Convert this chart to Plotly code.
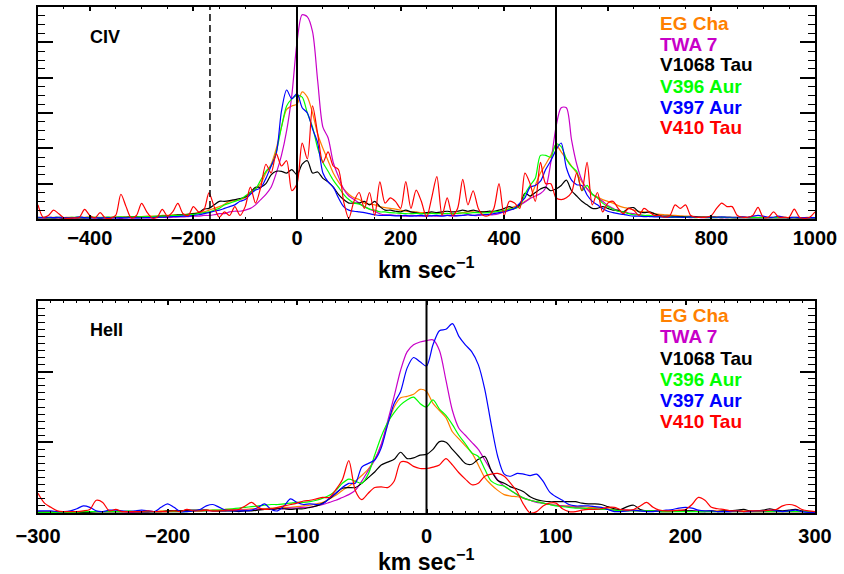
import plotly.graph_objects as go

# ---------------- data ----------------
stars = ["EG Cha", "TWA 7", "V1068 Tau", "V396 Aur", "V397 Aur", "V410 Tau"]
star_colors = ["#FF8000", "#C800C8", "#000000", "#00FF00", "#0000FF", "#FF0000"]

# C IV panel: velocity grid (km/s) -500..1000 step 10
v_civ = list(range(-500, 1001, 10))

civ_eg_cha = [
    0.05, 0.04, 0.04, 0.05, 0.04, 0.04, 0.05, 0.04, 0.04, 0.05,
    0.05, 0.05, 0.05, 0.05, 0.05, 0.05, 0.06, 0.06, 0.06, 0.07,
    0.07, 0.08, 0.08, 0.08, 0.10, 0.10, 0.12, 0.12, 0.13, 0.14,
    0.16, 0.18, 0.20, 0.25, 0.30, 0.35, 0.42, 0.50, 0.52, 0.55,
    0.60, 0.75, 0.85, 1.00, 1.30, 1.55, 2.00, 2.60, 3.10, 3.20,
    3.25, 3.60, 3.45, 3.00, 2.40, 2.00, 1.65, 1.30, 1.05, 0.85,
    0.70, 0.60, 0.55, 0.45, 0.42, 0.40, 0.35, 0.32, 0.30, 0.28,
    0.25, 0.22, 0.20, 0.20, 0.18, 0.18, 0.17, 0.16, 0.16, 0.15,
    0.15, 0.16, 0.18, 0.20, 0.20, 0.18, 0.20, 0.20, 0.20, 0.22,
    0.22, 0.30, 0.35, 0.40, 0.50, 0.60, 0.95, 1.30, 1.55, 1.80,
    2.10, 1.90, 1.70, 1.50, 1.30, 1.05, 0.85, 0.70, 0.62, 0.55,
    0.50, 0.45, 0.38, 0.33, 0.30, 0.25, 0.22, 0.20, 0.18, 0.15,
    0.13, 0.12, 0.11, 0.10, 0.09, 0.08, 0.08, 0.07, 0.07, 0.06,
    0.06, 0.06, 0.05, 0.05, 0.05, 0.05, 0.05, 0.05, 0.05, 0.05,
    0.05, 0.05, 0.05, 0.05, 0.05, 0.04, 0.05, 0.04, 0.04, 0.05,
    0.04,
]
civ_twa7 = [
    0.03, 0.03, 0.04, 0.03, 0.03, 0.02, 0.03, 0.03, 0.04, 0.03,
    0.03, 0.03, 0.02, 0.03, 0.03, 0.03, 0.02, 0.03, 0.03, 0.03,
    0.04, 0.03, 0.03, 0.04, 0.05, 0.04, 0.05, 0.06, 0.06, 0.07,
    0.08, 0.08, 0.10, 0.10, 0.12, 0.15, 0.15, 0.20, 0.22, 0.22,
    0.25, 0.30, 0.40, 0.55, 0.70, 0.90, 1.30, 1.80, 2.50, 3.50,
    5.00, 5.78, 5.72, 5.30, 3.90, 2.60, 2.30, 1.60, 1.20, 0.85,
    0.65, 0.55, 0.45, 0.35, 0.28, 0.22, 0.15, 0.12, 0.12, 0.10,
    0.10, 0.08, 0.10, 0.09, 0.08, 0.10, 0.09, 0.08, 0.10, 0.10,
    0.08, 0.10, 0.10, 0.12, 0.10, 0.10, 0.12, 0.12, 0.12, 0.15,
    0.20, 0.25, 0.30, 0.38, 0.48, 0.58, 0.65, 0.72, 0.88, 1.60,
    2.60, 3.15, 3.15, 2.24, 1.55, 1.10, 0.85, 0.70, 0.60, 0.50,
    0.38, 0.30, 0.22, 0.20, 0.17, 0.15, 0.12, 0.10, 0.08, 0.08,
    0.07, 0.06, 0.06, 0.05, 0.05, 0.05, 0.04, 0.05, 0.04, 0.04,
    0.04, 0.04, 0.04, 0.03, 0.04, 0.03, 0.03, 0.04, 0.03, 0.03,
    0.03, 0.03, 0.04, 0.03, 0.03, 0.03, 0.03, 0.03, 0.03, 0.03,
    0.03,
]
civ_v1068_tau = [
    0.03, 0.04, 0.03, 0.03, 0.04, 0.03, 0.03, 0.04, 0.03, 0.03,
    0.04, 0.04, 0.03, 0.04, 0.04, 0.05, 0.04, 0.05, 0.06, 0.06,
    0.05, 0.06, 0.07, 0.07, 0.08, 0.08, 0.10, 0.12, 0.12, 0.13,
    0.15, 0.17, 0.28, 0.30, 0.40, 0.50, 0.50, 0.52, 0.55, 0.58,
    0.62, 0.75, 0.90, 0.90, 1.00, 1.25, 1.35, 1.35, 1.30, 1.40,
    1.25, 1.55, 1.65, 1.30, 1.33, 1.15, 1.05, 0.90, 0.70, 0.55,
    0.45, 0.45, 0.45, 0.50, 0.40, 0.50, 0.35, 0.25, 0.25, 0.22,
    0.20, 0.25, 0.20, 0.18, 0.15, 0.18, 0.20, 0.18, 0.20, 0.22,
    0.20, 0.22, 0.25, 0.22, 0.25, 0.22, 0.20, 0.22, 0.22, 0.25,
    0.30, 0.35, 0.30, 0.40, 0.73, 0.65, 0.75, 0.85, 0.90, 0.80,
    0.85, 0.95, 1.10, 0.80, 0.65, 0.50, 0.40, 0.30, 0.30, 0.35,
    0.30, 0.25, 0.25, 0.20, 0.30, 0.32, 0.20, 0.18, 0.20, 0.15,
    0.10, 0.08, 0.08, 0.07, 0.07, 0.06, 0.06, 0.06, 0.05, 0.05,
    0.05, 0.05, 0.04, 0.05, 0.04, 0.04, 0.05, 0.04, 0.04, 0.04,
    0.04, 0.04, 0.04, 0.04, 0.04, 0.03, 0.04, 0.03, 0.03, 0.03,
    0.03,
]
civ_v396_aur = [
    0.04, 0.05, 0.04, 0.04, 0.05, 0.04, 0.04, 0.05, 0.05, 0.04,
    0.05, 0.05, 0.04, 0.05, 0.05, 0.05, 0.06, 0.05, 0.06, 0.06,
    0.06, 0.07, 0.07, 0.08, 0.08, 0.08, 0.10, 0.10, 0.11, 0.12,
    0.13, 0.15, 0.18, 0.20, 0.25, 0.30, 0.40, 0.45, 0.50, 0.55,
    0.65, 0.75, 0.85, 1.10, 1.35, 1.50, 1.90, 2.60, 3.20, 3.40,
    3.50, 3.45, 3.00, 2.60, 2.00, 1.60, 1.35, 1.10, 0.90, 0.70,
    0.55, 0.45, 0.42, 0.35, 0.28, 0.25, 0.20, 0.20, 0.18, 0.17,
    0.16, 0.15, 0.15, 0.16, 0.15, 0.15, 0.16, 0.15, 0.15, 0.16,
    0.15, 0.16, 0.17, 0.16, 0.18, 0.18, 0.17, 0.18, 0.20, 0.22,
    0.25, 0.28, 0.30, 0.35, 0.70, 0.95, 1.15, 1.80, 1.80, 1.75,
    2.12, 2.05, 1.70, 1.48, 1.35, 0.80, 0.95, 0.70, 0.60, 0.45,
    0.35, 0.28, 0.22, 0.20, 0.15, 0.12, 0.12, 0.10, 0.10, 0.08,
    0.07, 0.06, 0.06, 0.05, 0.05, 0.05, 0.05, 0.04, 0.05, 0.04,
    0.04, 0.04, 0.05, 0.04, 0.04, 0.04, 0.04, 0.04, 0.04, 0.04,
    0.04, 0.04, 0.04, 0.04, 0.04, 0.04, 0.04, 0.04, 0.04, 0.04,
    0.04,
]
civ_v397_aur = [
    0.05, 0.04, 0.05, 0.04, 0.05, 0.04, 0.03, 0.04, 0.06, 0.04,
    0.03, 0.04, 0.03, 0.04, 0.03, 0.03, 0.04, 0.03, 0.04, 0.03,
    0.03, 0.04, 0.04, 0.05, 0.05, 0.06, 0.07, 0.07, 0.08, 0.08,
    0.10, 0.12, 0.15, 0.18, 0.22, 0.25, 0.30, 0.35, 0.40, 0.50,
    0.55, 0.70, 0.82, 0.88, 1.15, 1.50, 1.85, 3.05, 3.65, 3.40,
    3.55, 3.15, 3.00, 2.55, 2.15, 1.30, 1.05, 0.90, 0.60, 0.35,
    0.25, 0.22, 0.20, 0.18, 0.15, 0.12, 0.10, 0.10, 0.10, 0.09,
    0.09, 0.10, 0.08, 0.09, 0.10, 0.08, 0.09, 0.10, 0.08, 0.10,
    0.10, 0.09, 0.10, 0.12, 0.10, 0.12, 0.12, 0.13, 0.15, 0.18,
    0.20, 0.25, 0.30, 0.45, 0.60, 0.90, 0.95, 1.07, 1.40, 1.65,
    1.95, 2.15, 1.45, 1.10, 0.97, 0.95, 0.68, 0.50, 0.40, 0.30,
    0.22, 0.18, 0.15, 0.13, 0.10, 0.08, 0.08, 0.07, 0.07, 0.06,
    0.06, 0.06, 0.05, 0.06, 0.05, 0.05, 0.06, 0.05, 0.05, 0.05,
    0.05, 0.05, 0.06, 0.05, 0.05, 0.05, 0.06, 0.05, 0.08, 0.10,
    0.08, 0.05, 0.05, 0.08, 0.05, 0.04, 0.05, 0.04, 0.04, 0.04,
    0.04,
]
civ_v410_tau = [
    0.40, 0.05, 0.10, 0.25, 0.15, 0.03, 0.02, 0.03, 0.05, 0.27,
    0.10, 0.03, 0.18, 0.03, 0.02, 0.10, 0.70, 0.35, 0.03, 0.10,
    0.44, 0.20, 0.03, 0.05, 0.27, 0.08, 0.20, 0.44, 0.15, 0.10,
    0.35, 0.20, 0.25, 0.74, 0.35, 0.05, 0.20, 0.10, 0.35, 0.10,
    0.35, 0.90, 0.45, 0.90, 1.55, 1.30, 1.85, 1.50, 1.65, 0.80,
    1.00, 2.15, 1.70, 3.20, 2.40, 1.60, 1.90, 1.50, 1.40, 0.50,
    0.02, 0.50, 0.75, 0.30, 0.75, 0.10, 1.05, 0.45, 0.60, 0.50,
    0.30, 1.06, 0.30, 0.82, 0.50, 0.05, 0.60, 1.20, 0.10, 0.60,
    0.10, 0.30, 1.12, 0.40, 0.80, 0.30, 0.10, 0.10, 0.30, 1.00,
    0.10, 0.50, 0.45, 0.30, 1.30, 1.00, 0.50, 1.60, 1.00, 1.00,
    0.60, 0.55, 0.60, 0.75, 1.30, 0.80, 1.60, 0.40, 0.75, 0.20,
    0.45, 0.50, 0.30, 0.15, 0.30, 0.25, 0.10, 0.30, 0.20, 0.10,
    0.10, 0.05, 0.10, 0.40, 0.30, 0.40, 0.10, 0.05, 0.05, 0.05,
    0.10, 0.30, 0.45, 0.35, 0.35, 0.10, 0.05, 0.05, 0.10, 0.33,
    0.05, 0.05, 0.20, 0.05, 0.05, 0.05, 0.28, 0.05, 0.02, 0.05,
    0.20,
]

# He II panel: velocity grid (km/s) -300..300 step 5
v_heii = list(range(-300, 301, 5))

heii_eg_cha = [
    0.02, 0.02, 0.02, 0.02, 0.02, 0.02, 0.02, 0.02, 0.02, 0.02,
    0.02, 0.02, 0.02, 0.02, 0.02, 0.02, 0.02, 0.02, 0.02, 0.03,
    0.03, 0.03, 0.03, 0.03, 0.03, 0.04, 0.04, 0.04, 0.04, 0.05,
    0.05, 0.05, 0.05, 0.06, 0.06, 0.06, 0.07, 0.07, 0.08, 0.08,
    0.09, 0.10, 0.11, 0.13, 0.15, 0.20, 0.25, 0.32, 0.38, 0.45,
    0.53, 0.62, 0.76, 0.96, 1.25, 1.50, 1.63, 1.65, 1.68, 1.75,
    1.72, 1.55, 1.45, 1.35, 1.15, 1.05, 0.95, 0.85, 0.68, 0.50,
    0.40, 0.32, 0.26, 0.24, 0.23, 0.21, 0.18, 0.16, 0.14, 0.12,
    0.11, 0.10, 0.10, 0.09, 0.09, 0.08, 0.08, 0.07, 0.06, 0.05,
    0.04, 0.04, 0.04, 0.04, 0.03, 0.03, 0.03, 0.03, 0.03, 0.03,
    0.03, 0.03, 0.03, 0.03, 0.03, 0.03, 0.03, 0.03, 0.03, 0.03,
    0.02, 0.02, 0.02, 0.02, 0.02, 0.02, 0.02, 0.02, 0.02, 0.02,
    0.02,
]
heii_twa7 = [
    0.02, 0.01, 0.01, 0.01, 0.01, 0.01, 0.01, 0.01, 0.02, 0.02,
    0.02, 0.02, 0.02, 0.02, 0.01, 0.01, 0.01, 0.01, 0.02, 0.02,
    0.02, 0.02, 0.02, 0.03, 0.03, 0.03, 0.03, 0.03, 0.03, 0.03,
    0.04, 0.04, 0.04, 0.04, 0.05, 0.05, 0.05, 0.06, 0.06, 0.07,
    0.07, 0.08, 0.08, 0.10, 0.12, 0.15, 0.18, 0.22, 0.26, 0.32,
    0.45, 0.60, 0.75, 0.97, 1.30, 1.65, 2.02, 2.28, 2.38, 2.42,
    2.44, 2.45, 2.30, 1.88, 1.45, 1.20, 1.10, 1.00, 0.90, 0.75,
    0.60, 0.47, 0.38, 0.32, 0.26, 0.21, 0.18, 0.15, 0.14, 0.12,
    0.11, 0.10, 0.09, 0.08, 0.07, 0.06, 0.06, 0.05, 0.05, 0.04,
    0.04, 0.04, 0.03, 0.03, 0.03, 0.03, 0.03, 0.03, 0.03, 0.03,
    0.03, 0.03, 0.03, 0.02, 0.02, 0.02, 0.02, 0.02, 0.02, 0.02,
    0.02, 0.02, 0.02, 0.02, 0.02, 0.02, 0.02, 0.02, 0.02, 0.02,
    0.02,
]
heii_v1068_tau = [
    0.01, 0.01, 0.01, 0.01, 0.01, 0.01, 0.01, 0.01, 0.01, 0.02,
    0.02, 0.02, 0.02, 0.02, 0.02, 0.02, 0.02, 0.02, 0.02, 0.02,
    0.03, 0.03, 0.03, 0.04, 0.04, 0.04, 0.04, 0.03, 0.03, 0.03,
    0.03, 0.02, 0.03, 0.03, 0.04, 0.05, 0.05, 0.06, 0.06, 0.05,
    0.06, 0.06, 0.08, 0.10, 0.14, 0.20, 0.28, 0.35, 0.36, 0.36,
    0.42, 0.50, 0.58, 0.68, 0.72, 0.76, 0.86, 0.77, 0.78, 0.82,
    0.83, 0.90, 1.01, 1.00, 0.90, 0.80, 0.70, 0.69, 0.76, 0.80,
    0.60, 0.46, 0.42, 0.37, 0.34, 0.30, 0.23, 0.19, 0.17, 0.16,
    0.16, 0.16, 0.16, 0.16, 0.14, 0.13, 0.13, 0.12, 0.09, 0.06,
    0.05, 0.09, 0.11, 0.05, 0.03, 0.03, 0.02, 0.02, 0.02, 0.03,
    0.03, 0.03, 0.02, 0.02, 0.03, 0.02, 0.03, 0.03, 0.04, 0.05,
    0.03, 0.03, 0.04, 0.06, 0.04, 0.03, 0.04, 0.05, 0.03, 0.02,
    0.02,
]
heii_v396_aur = [
    0.01, 0.01, 0.01, 0.01, 0.01, 0.01, 0.01, 0.02, 0.02, 0.02,
    0.02, 0.02, 0.02, 0.02, 0.03, 0.02, 0.02, 0.02, 0.02, 0.02,
    0.02, 0.02, 0.02, 0.02, 0.03, 0.03, 0.03, 0.04, 0.04, 0.05,
    0.06, 0.07, 0.08, 0.09, 0.10, 0.11, 0.12, 0.12, 0.13, 0.14,
    0.15, 0.15, 0.16, 0.18, 0.21, 0.25, 0.32, 0.42, 0.48, 0.45,
    0.42, 0.55, 0.82, 1.08, 1.28, 1.42, 1.53, 1.60, 1.64, 1.55,
    1.50, 1.60, 1.47, 1.38, 1.25, 1.10, 0.98, 0.85, 0.80, 0.62,
    0.45, 0.40, 0.38, 0.32, 0.26, 0.21, 0.18, 0.16, 0.14, 0.12,
    0.10, 0.09, 0.08, 0.07, 0.07, 0.06, 0.06, 0.05, 0.05, 0.04,
    0.03, 0.03, 0.03, 0.03, 0.03, 0.03, 0.02, 0.02, 0.02, 0.02,
    0.02, 0.02, 0.02, 0.02, 0.02, 0.02, 0.02, 0.02, 0.02, 0.02,
    0.02, 0.02, 0.02, 0.02, 0.02, 0.02, 0.02, 0.02, 0.02, 0.02,
    0.02,
]
heii_v397_aur = [
    0.03, 0.03, 0.03, 0.02, 0.02, 0.03, 0.06, 0.10, 0.08, 0.03,
    0.02, 0.04, 0.04, 0.03, 0.02, 0.03, 0.04, 0.03, 0.02, 0.08,
    0.13, 0.08, 0.02, 0.02, 0.03, 0.05, 0.10, 0.12, 0.08, 0.04,
    0.03, 0.03, 0.03, 0.04, 0.08, 0.13, 0.05, 0.03, 0.10, 0.20,
    0.15, 0.12, 0.13, 0.12, 0.13, 0.21, 0.28, 0.36, 0.42, 0.42,
    0.65, 0.70, 0.75, 0.92, 1.25, 1.55, 1.72, 2.05, 2.20, 2.14,
    2.08, 2.38, 2.58, 2.60, 2.68, 2.50, 2.38, 2.28, 2.10, 1.75,
    1.25, 0.80, 0.55, 0.52, 0.56, 0.55, 0.53, 0.55, 0.45, 0.30,
    0.23, 0.18, 0.12, 0.10, 0.10, 0.10, 0.09, 0.08, 0.05, 0.02,
    0.02, 0.03, 0.04, 0.03, 0.02, 0.02, 0.03, 0.04, 0.05, 0.07,
    0.08, 0.07, 0.04, 0.03, 0.03, 0.02, 0.02, 0.02, 0.03, 0.02,
    0.02, 0.03, 0.03, 0.04, 0.03, 0.02, 0.03, 0.04, 0.02, 0.01,
    0.01,
]
heii_v410_tau = [
    0.28, 0.14, 0.08, 0.03, 0.02, 0.02, 0.02, 0.03, 0.05, 0.18,
    0.15, 0.03, 0.05, 0.02, 0.02, 0.02, 0.02, 0.03, 0.02, 0.02,
    0.02, 0.03, 0.02, 0.05, 0.03, 0.03, 0.04, 0.03, 0.03, 0.04,
    0.04, 0.05, 0.10, 0.15, 0.08, 0.05, 0.06, 0.08, 0.10, 0.12,
    0.14, 0.17, 0.18, 0.20, 0.22, 0.22, 0.33, 0.47, 0.74, 0.32,
    0.19, 0.28, 0.36, 0.37, 0.36, 0.45, 0.72, 0.72, 0.66, 0.63,
    0.63, 0.65, 0.68, 0.77, 0.68, 0.57, 0.48, 0.40, 0.42, 0.52,
    0.55, 0.56, 0.52, 0.42, 0.30, 0.12, 0.00, 0.02, 0.10, 0.14,
    0.14, 0.06, 0.02, 0.02, 0.04, 0.05, 0.05, 0.06, 0.08, 0.08,
    0.05, 0.04, 0.05, 0.10, 0.15, 0.08, 0.04, 0.03, 0.03, 0.04,
    0.05, 0.12, 0.22, 0.18, 0.08, 0.06, 0.05, 0.03, 0.03, 0.02,
    0.03, 0.03, 0.03, 0.04, 0.05, 0.10, 0.12, 0.10, 0.05, 0.03,
    0.02,
]

civ_series = [civ_eg_cha, civ_twa7, civ_v1068_tau, civ_v396_aur, civ_v397_aur, civ_v410_tau]
heii_series = [heii_eg_cha, heii_twa7, heii_v1068_tau, heii_v396_aur, heii_v397_aur, heii_v410_tau]
for s in civ_series:
    assert len(s) == len(v_civ), len(s)
for s in heii_series:
    assert len(s) == len(v_heii), len(s)

civ_marker_lines = [0, 500]       # solid reference velocities
civ_dashed_line = -168            # dashed reference velocity
heii_marker_lines = [0]

# ---------------- figure ----------------
W, H = 844, 574
FONT = "Liberation Sans"

fig = go.Figure()
for name, col, ys in zip(stars, star_colors, civ_series):
    fig.add_trace(go.Scatter(x=v_civ, y=ys, mode="lines", name=name, showlegend=False,
                             line=dict(color=col, width=1.2, shape="spline", smoothing=0.8),
                             xaxis="x", yaxis="y"))
for name, col, ys in zip(stars, star_colors, heii_series):
    fig.add_trace(go.Scatter(x=v_heii, y=ys, mode="lines", name=name, showlegend=False,
                             line=dict(color=col, width=1.2, shape="spline", smoothing=0.8),
                             xaxis="x2", yaxis="y2"))
# empty traces so the mirrored tick axes (top / right) are drawn
fig.add_trace(go.Scatter(x=[], y=[], xaxis="x3", yaxis="y3", showlegend=False, hoverinfo="skip"))
fig.add_trace(go.Scatter(x=[], y=[], xaxis="x4", yaxis="y4", showlegend=False, hoverinfo="skip"))

xdom = [38 / W, 815 / W]
top_dom = [1 - 219 / H, 1 - 7 / H]
bot_dom = [1 - 513 / H, 1 - 301 / H]

tickfont = dict(family=FONT, size=20, color="black", weight="bold")

def xaxis_cfg(rng, dtick, minor_dtick, anchor, standoff, side="bottom", overlay=None, labels=True):
    d = dict(anchor=anchor, range=rng, tick0=0, dtick=dtick, side=side,
             ticks="inside", ticklen=4, tickwidth=1.5, tickcolor="black",
             minor=dict(dtick=minor_dtick, ticks="inside", ticklen=2, tickwidth=1.2,
                        tickcolor="black", showgrid=False),
             showgrid=False, zeroline=False, automargin=False,
             showticklabels=labels)
    if overlay:
        d.update(overlaying=overlay, showline=False)
    else:
        d.update(domain=xdom, showline=True, linewidth=2, linecolor="black", mirror=True,
                 tickfont=tickfont, ticklabelstandoff=standoff)
    return d

def yaxis_cfg(dom, rng, minor_dtick, anchor, side="left", overlay=None):
    d = dict(anchor=anchor, range=rng, tick0=0, dtick=1, side=side,
             ticks="inside", ticklen=15, tickwidth=1.5, tickcolor="black",
             minor=dict(dtick=minor_dtick, ticks="inside", ticklen=7, tickwidth=1.2,
                        tickcolor="black", showgrid=False),
             showgrid=False, zeroline=False, showticklabels=False, automargin=False)
    if overlay:
        d.update(overlaying=overlay, showline=False)
    else:
        d.update(domain=dom, showline=True, linewidth=2, linecolor="black", mirror=True)
    return d

fig.update_layout(
    width=W, height=H,
    margin=dict(l=0, r=0, t=0, b=0, autoexpand=False),
    paper_bgcolor="white", plot_bgcolor="white",
    xaxis=xaxis_cfg([-500, 1000], 200, 50, "y", 0),
    yaxis=yaxis_cfg(top_dom, [0, 6], 0.25, "x"),
    xaxis2=xaxis_cfg([-300, 300], 100, 10, "y2", 4),
    yaxis2=yaxis_cfg(bot_dom, [0, 3], 0.1, "x2"),
    xaxis3=xaxis_cfg([-500, 1000], 200, 50, "y3", 0, side="top", overlay="x", labels=False),
    yaxis3=yaxis_cfg(top_dom, [0, 6], 0.25, "x3", side="right", overlay="y"),
    xaxis4=xaxis_cfg([-300, 300], 100, 10, "y4", 0, side="top", overlay="x2", labels=False),
    yaxis4=yaxis_cfg(bot_dom, [0, 3], 0.1, "x4", side="right", overlay="y2"),
)

shapes = []
for xv in civ_marker_lines:
    shapes.append(dict(type="line", xref="x", yref="y domain", x0=xv, x1=xv, y0=0, y1=1,
                       line=dict(color="black", width=2)))
shapes.append(dict(type="line", xref="x", yref="y domain", x0=civ_dashed_line, x1=civ_dashed_line,
                   y0=0, y1=1, line=dict(color="black", width=1.5, dash="7px,4px")))
for xv in heii_marker_lines:
    shapes.append(dict(type="line", xref="x2", yref="y2 domain", x0=xv, x1=xv, y0=0, y1=1,
                       line=dict(color="black", width=2)))
fig.update_layout(shapes=shapes)

ann = []
def txt(x_px, y_px, text, color="black", size=19, xanchor="left"):
    ann.append(dict(x=x_px / W, y=1 - y_px / H, xref="paper", yref="paper",
                    xanchor=xanchor, yanchor="middle", showarrow=False,
                    text=f"<b>{text}</b>", font=dict(family=FONT, size=size, color=color)))

civ_rows = [23, 44, 65, 86, 107, 128]
heii_rows = [315, 336.5, 358, 379, 400, 421.5]
for name, col, yc in zip(stars, star_colors, civ_rows):
    txt(658, yc, name, col)
for name, col, yc in zip(stars, star_colors, heii_rows):
    txt(658, yc, name, col)

txt(88, 37, "CIV", size=18)
txt(88, 330, "HeII", size=18)
txt(426, 268, "km sec<sup>−1</sup>", size=23, xanchor="center")
txt(426, 560, "km sec<sup>−1</sup>", size=23, xanchor="center")
fig.update_layout(annotations=ann)

fig.write_html("out.html")
